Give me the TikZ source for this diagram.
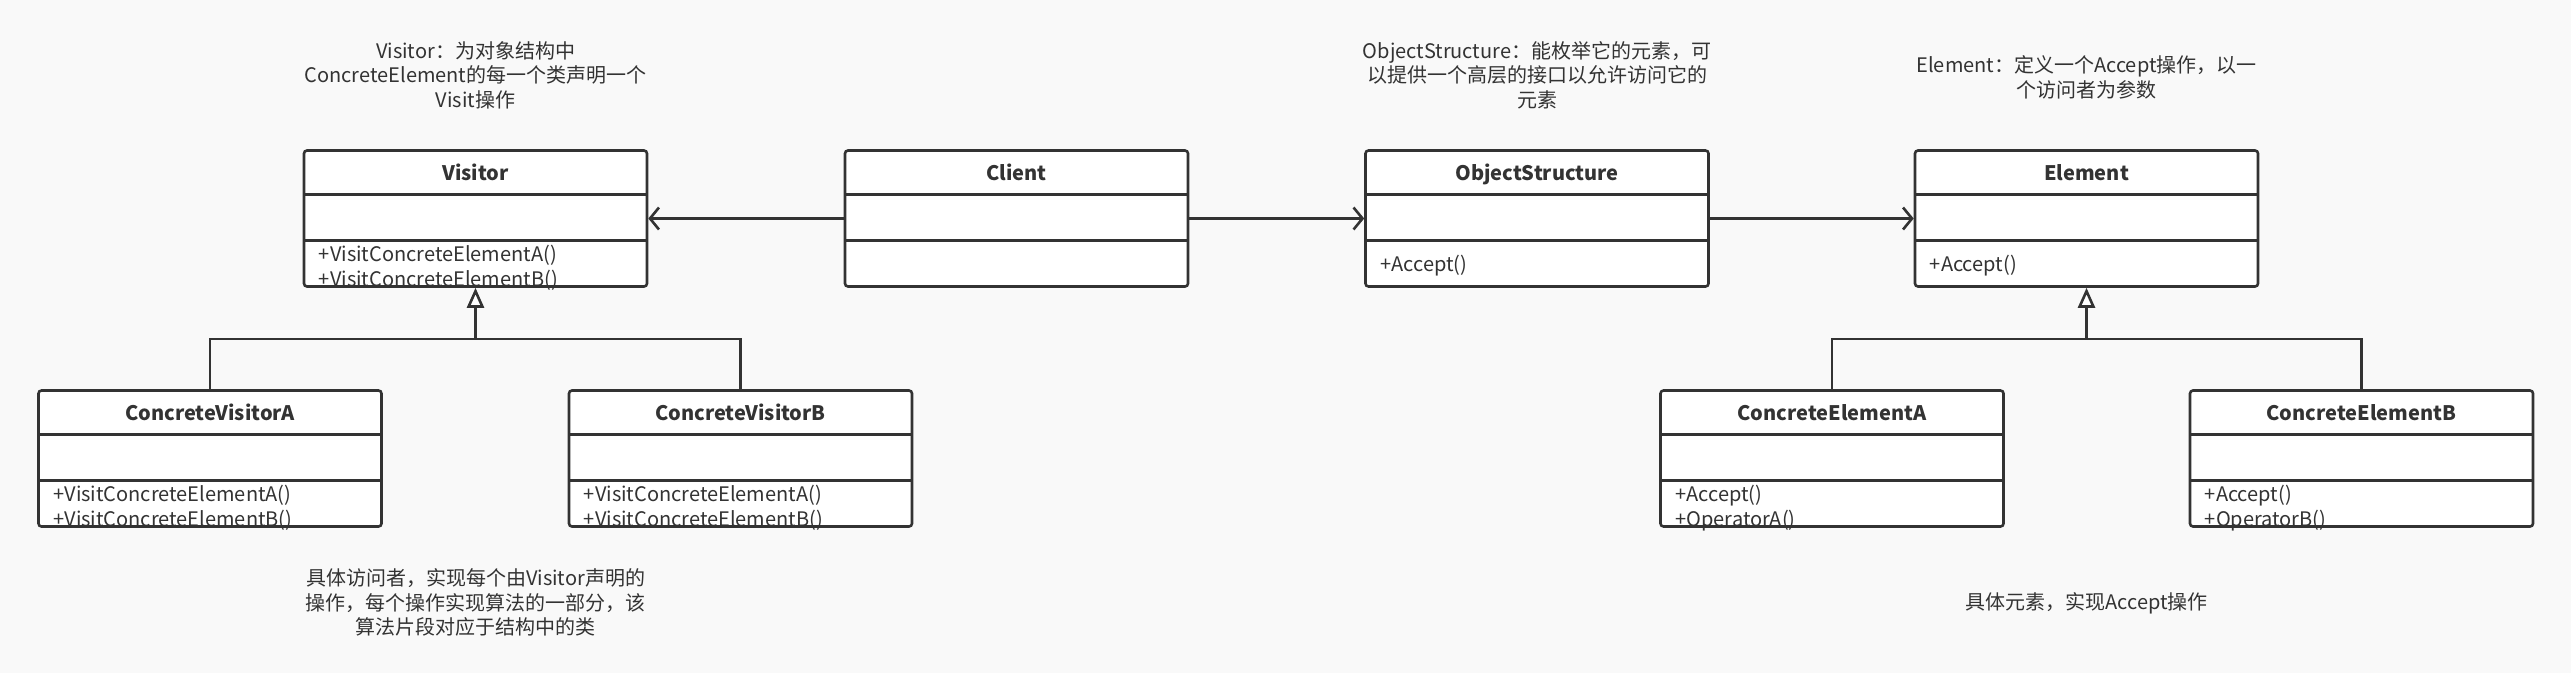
\documentclass[tikz,border=0pt]{standalone}
\usepackage{fontspec}
\setmainfont{Noto Sans CJK SC}
\usetikzlibrary{positioning}
\usetikzlibrary{arrows.meta}
\definecolor{linegray}{HTML}{333333}
\definecolor{bggray}{HTML}{F9F9F9}

\begin{document}
\begin{tikzpicture}[
                          x=1pt, y=-1pt,
                          classbox/.style={rectangle, draw=linegray, fill=white, line width=2.6pt, rounded corners=3pt, minimum width=343pt, minimum height=136pt, inner sep=0pt,
                              path picture={
                                  \draw[linegray, line width=2.6pt] ([yshift=-44pt]path picture bounding box.north west) -- ([yshift=-44pt]path picture bounding box.north east);
                                  \draw[linegray, line width=2.6pt] ([yshift=-90pt]path picture bounding box.north west) -- ([yshift=-90pt]path picture bounding box.north east);
                              }},
                          classname/.style={font=\fontsize{20pt}{24pt}\selectfont\bfseries, text=linegray, inner sep=0pt, anchor=base},
                          classops/.style={font=\fontsize{20pt}{24.5pt}\selectfont, text=linegray, align=left, inner sep=0pt, anchor=base west},
                          note/.style={font=\fontsize{20pt}{24.5pt}\selectfont, text=linegray, align=center, inner sep=0pt},
                          link/.style={draw=linegray, line width=2.6pt},
                          assoc/.style={link, -{Straight Barb[length=9pt, width=22pt]}},
                          inherit/.style={link, -{Triangle[fill=white, length=20pt, width=17pt]}},
                      ]
                      %Background
                      \fill[bggray] (0,0) rectangle (2571,673);

                      %Classes
                      \node[classbox]    (visitor)    at (475.5,218.5)                      {};
                      \node[classbox]    (client)     [right=195.4pt of visitor]            {};
                      \node[classbox]    (objstruct)  [right=174.9pt of client]             {};
                      \node[classbox]    (element)    [right=203.9pt of objstruct]          {};
                      \node[classbox]    (cva)        [below=101.4pt of visitor, xshift=-265.5pt] {};
                      \node[classbox]    (cvb)        [below=101.4pt of visitor, xshift=265pt]    {};
                      \node[classbox]    (cea)        [below=101.4pt of element, xshift=-254.5pt] {};
                      \node[classbox]    (ceb)        [below=101.4pt of element, xshift=275pt]    {};

                      %Names
                      \node[classname]   (visitor-name)    at ([yshift=-31.5pt]visitor.north)    {Visitor};
                      \node[classname]   (client-name)     at ([yshift=-31.5pt]client.north)     {Client};
                      \node[classname]   (objstruct-name)  at ([yshift=-31.5pt]objstruct.north)  {ObjectStructure};
                      \node[classname]   (element-name)    at ([yshift=-31.5pt]element.north)    {Element};
                      \node[classname]   (cva-name)        at ([yshift=-31.5pt]cva.north)        {ConcreteVisitorA};
                      \node[classname]   (cvb-name)        at ([yshift=-31.5pt]cvb.north)        {ConcreteVisitorB};
                      \node[classname]   (cea-name)        at ([yshift=-31.5pt]cea.north)        {ConcreteElementA};
                      \node[classname]   (ceb-name)        at ([yshift=-31.5pt]ceb.north)        {ConcreteElementB};

                      %Operations (base = last line)
                      \node[classops]    (visitor-ops)    at ([xshift=16pt, yshift=-137pt]visitor.north west)   {+VisitConcreteElementA()\\+VisitConcreteElementB()};
                      \node[classops]    (objstruct-ops)  at ([xshift=16pt, yshift=-122pt]objstruct.north west) {+Accept()};
                      \node[classops]    (element-ops)    at ([xshift=16pt, yshift=-122pt]element.north west)   {+Accept()};
                      \node[classops]    (cva-ops)        at ([xshift=16pt, yshift=-137pt]cva.north west)       {+VisitConcreteElementA()\\+VisitConcreteElementB()};
                      \node[classops]    (cvb-ops)        at ([xshift=16pt, yshift=-137pt]cvb.north west)       {+VisitConcreteElementA()\\+VisitConcreteElementB()};
                      \node[classops]    (cea-ops)        at ([xshift=16pt, yshift=-137pt]cea.north west)       {+Accept()\\+OperatorA()};
                      \node[classops]    (ceb-ops)        at ([xshift=16pt, yshift=-137pt]ceb.north west)       {+Accept()\\+OperatorB()};

                      %Notes
                      \node[note]   (visitor-note)    [above=40pt of visitor]      {Visitor：为对象结构中\\ConcreteElement的每一个类声明一个\\Visit操作};
                      \node[note]   (objstruct-note)  [above=40pt of objstruct]    {ObjectStructure：能枚举它的元素，可\\以提供一个高层的接口以允许访问它的\\元素};
                      \node[note]   (element-note)    [above=50pt of element]      {Element：定义一个Accept操作，以一\\个访问者为参数};
                      \node[note, anchor=north, yshift=-41pt]  (cv-note)  at (visitor.south |- cva.south)  {具体访问者，实现每个由Visitor声明的\\操作，每个操作实现算法的一部分，该\\算法片段对应于结构中的类};
                      \node[note, anchor=north, yshift=-65pt]  (ce-note)  at (element.south |- cea.south)  {具体元素，实现Accept操作};

                      %Lines
                      \draw[assoc] (client.west) -- (visitor.east);
                      \draw[assoc] (client.east) -- (objstruct.west);
                      \draw[assoc] (objstruct.east) -- (element.west);

                      \coordinate (visitor-join) at ([yshift=-51pt]visitor.south);
                      \draw[link] (cva.north) |- (visitor-join) -| (cvb.north);
                      \draw[inherit] (visitor-join) -- (visitor.south);

                      \coordinate (element-join) at ([yshift=-51pt]element.south);
                      \draw[link] (cea.north) |- (element-join) -| (ceb.north);
                      \draw[inherit] (element-join) -- (element.south);
                  \end{tikzpicture}
\end{document}
